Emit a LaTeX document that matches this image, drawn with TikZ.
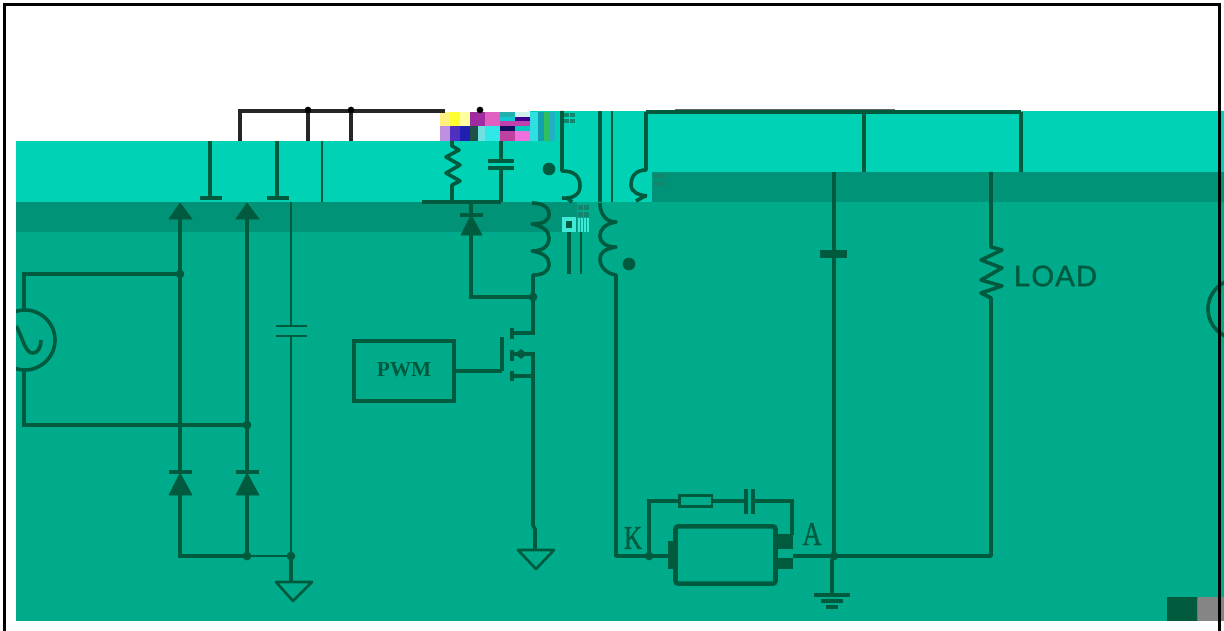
\documentclass[tikz,border=0pt]{standalone}
\usepackage{fontspec}
\setmainfont{Liberation Serif}
\newfontfamily\loadfont[FakeBold=1.2]{Liberation Sans}
\newfontfamily\slabfont[FakeBold=1]{Liberation Serif}
\definecolor{bright}{HTML}{00D2B6}
\definecolor{band}{HTML}{009378}
\definecolor{mainbg}{HTML}{00AB8C}
\definecolor{wirec}{HTML}{005A3E}
\definecolor{tilec}{HTML}{40E8D8}
\tikzset{
  wire/.style={draw=wirec,line width=2.7pt,line join=miter},
  coil/.style={draw=wirec,line width=2.7pt,line join=round},
  thinw/.style={draw=wirec,line width=1.9pt,line join=miter},
  blackw/.style={draw=black!85,line width=2.4pt},
  dotn/.style={circle,fill=wirec,inner sep=0pt,minimum size=6.5pt},
  bigdot/.style={circle,fill=wirec,inner sep=0pt,minimum size=9.5pt},
  blackdot/.style={circle,fill=black,inner sep=0pt,minimum size=5pt},
  frameline/.style={draw=black,line width=2.4pt},
  diodehead/.style={fill=wirec,draw=wirec,line width=.5pt,line join=round},
  groundtri/.style={draw=wirec,line width=2pt,line join=round},
}
\begin{document}
\begin{tikzpicture}[x=0.75pt,y=-0.75pt]
\useasboundingbox (0,0) rectangle (1224,631);
% --- background bands
\fill[white] (0,0) rectangle (1224,631);
\fill[mainbg] (16,232) rectangle (1224,621);
\fill[mainbg] (577,202) rectangle (1224,232);
\fill[band] (16,202) rectangle (577,232);
\fill[band] (652,172) rectangle (1224,202);
\fill[bright] (16,141) rectangle (652,202);
\fill[bright] (530,111) rectangle (1224,172);
% --- scrambled tiles, top
\foreach \x/\y/\w/\h/\c in {
 440/112/10/14/FFF080, 450/112/10/14/FFFF30, 460/112/10/14/FFFFA0,
 470/112/15/14/A02AA0, 485/112/15/14/E060C0,
 500/112/15/5/20B0B0, 515/112/15/5/D0F0F0, 500/117/15/4/10C8D0, 515/117/15/4/400090,
 500/121/30/5/C040B0,
 530/112/8/29/30E0E0, 538/112/6/29/10A0B0, 544/112/5/29/30C060, 549/112/6/29/20B0C8,
 440/126/10/15/C090E0, 450/126/10/15/5030C0, 460/126/10/15/2020B0,
 470/126/8/15/205048, 478/126/7/15/70E0E0,
 485/126/15/15/30E8E8, 500/126/15/5/101060, 515/126/15/5/00C8C0,
 500/131/15/10/C040A0, 515/131/15/10/F070E0}
 {\definecolor{tmpc}{HTML}{\c}\fill[tmpc] (\x,\y) rectangle ++(\w,\h);}
% checker tiles
\foreach \x/\y in {564/113,570/113,564/119,570/119,654/174,660/174,654/182,660/182,
                   578/205,584/205,578/212,584/212}
 {\fill[wirec!70!tilec] (\x,\y) rectangle ++(4.5,4.5);}
\foreach \x in {578,581,584,587}
 {\fill[tilec] (\x,218) rectangle ++(2,14);}
\fill[tilec] (562,217) rectangle (576,232);
\fill[wirec] (566,221) rectangle (572,228);
% --- coordinates
\coordinate (acTop) at (24,274);
\coordinate (acBot) at (24,425);
\coordinate (br1) at (180,274);
\coordinate (br2) at (247,425);
\coordinate (br1b) at (180,556);
\coordinate (br2b) at (247,556);
\coordinate (capb) at (291,556);
\coordinate (g1) at (291,582);
\coordinate (sw) at (533,297);
\coordinate (outj) at (834,556);
\coordinate (loadb) at (991,556);
% --- top black wires
\draw[blackw] (240,141) -- (240,111) -- (445,111);
\draw[blackw] (308,141) -- (308,111);
\draw[blackw] (351,141) -- (351,111);
\node[blackdot] (t1) at (308,110) {};
\node[blackdot] (t2) at (351,110) {};
\node[blackdot] (t3) at (480,110) {};
\draw[black!60,line width=1pt] (675,110) -- (895,110);
% --- shifted stubs in the bright band
\draw[wire] (210,141) -- (210,198);
\draw[wire] (200,198) -- (222,198);
\draw[wire] (277,141) -- (277,198);
\draw[wire] (267,198) -- (289,198);
\draw[thinw] (322,141) -- (322,202);
% --- AC source and rectifier
\begin{scope}
\clip (16,232) rectangle (100,400);
\draw[wire] (25,340) circle[radius=30];
\draw[wire] (16,326) .. controls (22,335) and (25,354) .. (33,353) .. controls (38,353) and (41,347) .. (41,340);
\end{scope}
\begin{scope}
\clip (1190,270) rectangle (1224,350);
\draw[wire] (1238,309) circle[radius=30];
\end{scope}
\draw[wire] (24,310) -- (acTop) -- (br1);
\draw[wire] (24,370) -- (acBot) -- (br2);
\node[dotn] (j1) at (br1) {};
\node[dotn] (j2) at (br2) {};
\draw[wire,line width=3.2pt] (180,219) -- (180,472);
\draw[wire] (247,219) -- (247,472);
\draw[wire] (180,495) -- (br1b) -- (br2b);
\draw[wire] (247,495) -- (br2b);
\draw[diodehead] (180,203) -- (192,219) -- (169,219) -- cycle;
\draw[diodehead] (247,203) -- (259,219) -- (236,219) -- cycle;
\draw[diodehead] (180,473) -- (192,495) -- (169,495) -- cycle;
\draw[diodehead] (247,473) -- (259,495) -- (236,495) -- cycle;
\draw[wire] (169,472) -- (192,472);
\draw[wire] (236,472) -- (259,472);
\node[dotn] (j3) at (br2b) {};
\draw[thinw] (br2b) -- (capb);
\node[dotn] (j4) at (capb) {};
% --- bulk capacitor
\draw[thinw] (291,202) -- (291,326);
\draw[thinw] (276,326) -- (307,326);
\draw[thinw] (276,336) -- (307,336);
\draw[thinw] (291,336) -- (capb);
\draw[wire] (capb) -- (g1);
\draw[groundtri] (276,582) -- (312,582) -- (293,601) -- cycle;
% --- snubber R, C, diode
\draw[coil] (452,141) -- (452,146) -- (459,150) -- (446,157) -- (460,165) -- (446,173) -- (460,181) -- (452,185) -- (452,202);
\draw[wire] (501,141) -- (501,161);
\draw[wire] (488,161) -- (514,161);
\draw[wire] (488,168) -- (514,168);
\draw[wire] (501,168) -- (501,202);
\draw[wire] (422,202) -- (501,202);
\draw[wire] (471,203) -- (471,215);
\draw[wire] (460,215) -- (483,215);
\draw[diodehead] (471,215) -- (482,235) -- (461,235) -- cycle;
\draw[wire] (471,235) -- (471,297) -- (sw);
\node[dotn] (j5) at (sw) {};
% --- transformer
\node[bigdot] (d1) at (549,169) {};
\node[bigdot] (d2) at (629,264) {};
\draw[coil] (562,111) -- (562,171) .. controls (574,171) and (580,176) .. (580,186) .. controls (580,195) and (572,199) .. (562,198);
\draw[wire] (567,198) -- (572,202);
\draw[coil] (532,203) ..  controls (540,203) and (549,206) .. (549,214) .. controls (549,221) and (543,224) .. (532,224) .. controls (543,226) and (549,231) .. (549,238) .. controls (549,246) and (543,251) .. (532,251) .. controls (543,253) and (549,257) .. (549,264) .. controls (549,272) and (542,275) .. (533,275) -- (sw);
\draw[wire] (600,111) -- (600,202);
\draw[thinw] (612,111) -- (612,202);
\draw[wire] (569,232) -- (569,274);
\draw[thinw] (581,232) -- (581,274);
\draw[coil] (646,112) -- (646,170) .. controls (636,170) and (631,176) .. (631,185) .. controls (631,192) and (638,195) .. (647,196);
\draw[wire] (636,201) -- (645,196);
\draw[coil] (600,203) .. controls (600,210) and (603,222) .. (616,222) .. controls (604,224) and (600,230) .. (600,236) .. controls (600,241) and (604,247) .. (616,247) .. controls (604,249) and (600,253) .. (600,259) .. controls (600,268) and (608,274) .. (616,275) -- (616,556) -- (668,556);
\node[dotn] (j6) at (649,556) {};
% --- output rails
\draw[wire,line width=3.2pt] (646,112) -- (1021,112);
\draw[wire] (864,112) -- (864,172);
\draw[wire] (1021,112) -- (1021,172);
\draw[wire] (834,172) -- (834,250);
\draw[wire,line width=6pt] (820,254) -- (847,254);
\draw[wire] (834,254) -- (outj);
\draw[coil] (991,172) -- (991,247) -- (1002,250) -- (981,260) -- (1002,268) -- (981,280) -- (1002,286) -- (981,293) -- (991,298) -- (loadb) -- (outj);
\node[font=\loadfont,text=wirec,inner sep=0pt] (loadl) at (1055.5,276) {\fontsize{22}{22}\selectfont L\kern.8pt O\kern.8pt A\kern.8pt D};
\node[dotn] (j7) at (outj) {};
% --- PWM and MOSFET
\node[draw=wirec,line width=3pt,minimum width=75pt,minimum height=45.5pt,inner sep=0pt,
      font=\fontsize{16}{16}\selectfont\bfseries,text=wirec] (pwm) at (404,371) {\raisebox{1.5pt}{PWM}};
\coordinate (gate) at (502,371);
\draw[wire] (pwm.east) -- (gate);
\draw[wire] (gate) -- (502,337);
\draw[wire] (512,328) -- (512,339);
\draw[wire] (512,350) -- (512,361);
\draw[wire] (512,371) -- (512,381);
\draw[wire] (sw) -- (533,333) -- (512,333);
\draw[wire] (512,354) -- (533,354) -- (533,526);
\draw[wire] (512,376) -- (533,376);
\fill[wirec] (515,354) -- (521,349) -- (527,354) -- (521,359) -- cycle;
\draw[coil] (533,526) -- (535,529) -- (535,550);
\draw[groundtri] (518,550) -- (554,550) -- (536,569) -- cycle;
% --- lamp / LED with R-C branch
\node[draw=wirec,line width=3.4pt,rounded corners=2pt,minimum width=75pt,minimum height=43pt,inner sep=0pt] (lamp) at (725.5,555) {};
\fill[wirec] (668,541) rectangle (675,569);
\fill[wirec] (776,534) rectangle (793,549);
\fill[wirec] (776,558) rectangle (793,569);
\node[draw=wirec,line width=2pt,minimum width=24.5pt,minimum height=8.5pt,inner sep=0pt] (rs) at (695.5,501) {};
\draw[wire] (649,556) -- (649,501) -- (rs.west);
\draw[wire] (rs.east) -- (746,501);
\draw[wire] (746,489) -- (746,514);
\draw[wire] (753,489) -- (753,514);
\draw[wire] (753,501) -- (792,501) -- (792,535);
\draw[wire] (793,556) -- (outj);
\node[font=\slabfont\fontsize{25}{25}\selectfont,text=wirec,inner sep=0pt,xscale=.75] (kl) at (633,538) {K};
\node[font=\slabfont\fontsize{25}{25}\selectfont,text=wirec,inner sep=0pt,xscale=.8] (al) at (812,534) {A};
% --- ground
\coordinate (g3) at (832,594);
\draw[coil] (outj) -- (832,560) -- (g3);
\draw[wire,line width=3pt] (814,595) -- (850,595);
\draw[wire,line width=3pt] (821,601) -- (843,601);
\draw[wire,line width=3pt] (826,607) -- (838,607);
% --- corner blocks
\fill[wirec] (1167,597) rectangle (1197,621);
\fill[black!48] (1198,597) rectangle (1224,621);
% --- frame
\draw[frameline] (4.5,631) -- (4.5,4.5) -- (1219.5,4.5) -- (1219.5,631);
\end{tikzpicture}
\end{document}
